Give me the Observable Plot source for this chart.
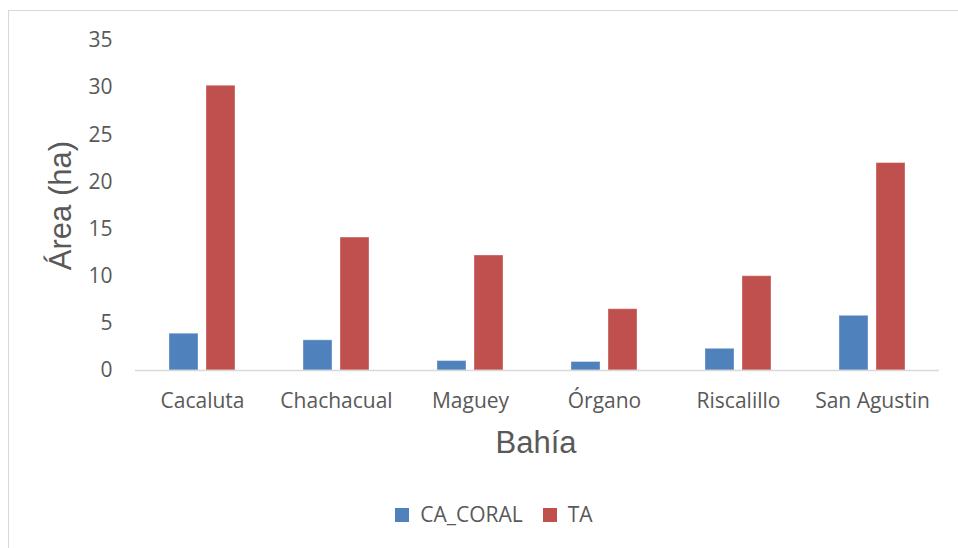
<!DOCTYPE html>
<html>
<head>
<meta charset="utf-8">
<script src="https://cdn.jsdelivr.net/npm/d3@7"></script>
<script src="https://cdn.jsdelivr.net/npm/@observablehq/plot@0.6"></script>
<style>
  body { margin: 0; background: #fff; }
  #wrap { position: relative; width: 958px; height: 548px; overflow: hidden; font-family: "Open Sans", sans-serif; color: #595959; }
  #frame { position: absolute; left: 8px; top: 10px; width: 1000px; height: 600px; border-left: 1.5px solid #d9d9d9; border-top: 1.5px solid #d9d9d9; }
  #chart { position: absolute; left: 0; top: 0; }
  .title { position: absolute; font-family: "Liberation Sans", Arial, sans-serif; font-size: 31px; line-height: 31px; color: #595959; white-space: nowrap; text-align: center; }
  #ytitle { width: 200px; left: -39.8px; top: 189.5px; transform: rotate(-90deg); }
  #xtitle { width: 200px; left: 436px; top: 427px; }
  #legend { position: absolute; top: 504px; left: 0; width: 958px; display: flex; justify-content: center; align-items: center; font-size: 21px; line-height: 21px; padding-left: 30px; box-sizing: border-box; }
  .item { display: flex; align-items: center; margin: 0 10px; }
  .sw { width: 14px; height: 14px; margin-right: 11px; }
</style>
</head>
<body>
<div id="wrap">
  <div id="frame"></div>
  <div id="chart"></div>
  <div class="title" id="ytitle">Área (ha)</div>
  <div class="title" id="xtitle">Bahía</div>
  <div id="legend"></div>
</div>
<script>
const bays = ["Cacaluta", "Chachacual", "Maguey", "Órgano", "Riscalillo", "San Agustin"];
const caCoral = [3.9, 3.2, 1.0, 0.9, 2.3, 5.8];
const ta = [30.2, 14.1, 12.2, 6.5, 10.0, 22.0];
const seriesNames = ["CA_CORAL", "TA"];
const seriesColors = ["#4F81BD", "#C0504D"];
const yTicks = [0, 5, 10, 15, 20, 25, 30, 35];

const rows = [];
bays.forEach((b, i) => {
  rows.push({bay: b, series: seriesNames[0], value: caCoral[i]});
  rows.push({bay: b, series: seriesNames[1], value: ta[i]});
});

const chart = Plot.plot({
  width: 958,
  height: 430,
  marginLeft: 133,
  marginRight: 18,
  marginTop: 40,
  marginBottom: 60,
  style: {fontFamily: "'Open Sans', sans-serif", fontSize: "21px", color: "#595959", background: "transparent", overflow: "visible"},
  fx: {domain: bays, padding: 0, label: null, axis: null},
  x: {domain: seriesNames, paddingInner: 0.21, paddingOuter: 0.875, axis: null},
  y: {domain: [0, 35], axis: null},
  color: {domain: seriesNames, range: seriesColors},
  marks: [
    Plot.axisY({ticks: yTicks, tickSize: 0, tickPadding: 23, label: null, fontSize: 21, fill: "#595959"}),
    Plot.axisFx({domain: bays, anchor: "bottom", tickSize: 0, tickPadding: 23, label: null, fontSize: 21, fill: "#595959"}),
    Plot.barY(rows, {fx: "bay", x: "series", y: "value", fill: "series", stroke: "white", strokeOpacity: 0.35, strokeWidth: 1}),
    Plot.ruleY([0], {stroke: "#d9d9d9", strokeWidth: 1.5})
  ]
});
document.getElementById("chart").appendChild(chart);

const legend = document.getElementById("legend");
seriesNames.forEach((s, i) => {
  const it = document.createElement("div");
  it.className = "item";
  const sw = document.createElement("div");
  sw.className = "sw";
  sw.style.background = seriesColors[i];
  const t = document.createElement("span");
  t.textContent = s;
  it.appendChild(sw);
  it.appendChild(t);
  legend.appendChild(it);
});
</script>
</body>
</html>
